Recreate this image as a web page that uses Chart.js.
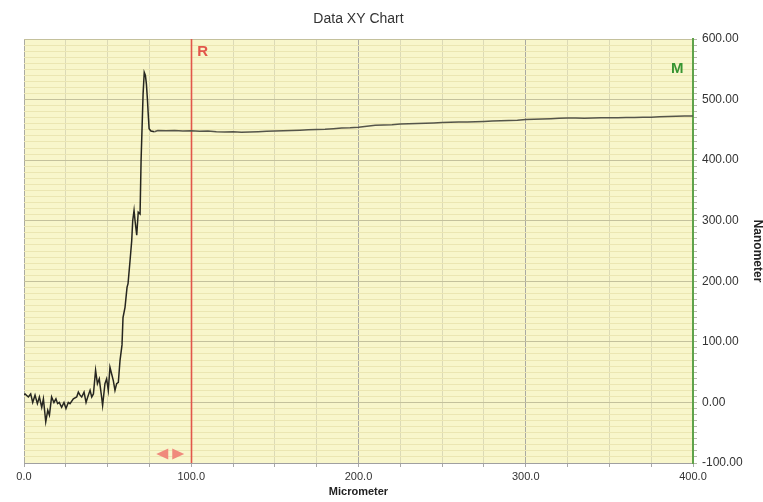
<!DOCTYPE html>
<html>
<head>
<meta charset="utf-8">
<script src="https://cdn.jsdelivr.net/npm/chart.js@4"></script>
<style>
  html, body { margin: 0; padding: 0; background: #ffffff; }
  #wrap { width: 763px; height: 502px; }
</style>
</head>
<body>
<div id="wrap"><canvas id="c" width="763" height="502"></canvas></div>
<script>
// Profile trace: horizontal position (Micrometer) and height (Nanometer)
const micrometer = [
  0, 0.6, 2.6, 4.0, 5.2, 6.6, 8.0, 9.2, 10.6, 11.6, 13.0, 14.2, 15.2, 16.5, 17.9, 19.1,
  20.1, 21.1, 22.5, 23.9, 25.1, 26.5, 27.5, 29.5, 31.5, 32.5, 33.5, 34.5, 35.9, 37.1,
  38.1, 39.5, 40.5, 41.5, 42.8, 43.9, 45.0, 46.4, 47.0, 48.4, 49.4, 50.4, 51.4, 52.4,
  53.4, 54.4, 55.4, 56.4, 57.4,
  58.6, 59.2, 60.4, 61.6, 62.2, 63.4, 64.4, 65.0, 65.8, 66.4, 67.4, 68.3, 69.4, 70.0,
  71.2, 71.9, 72.6, 73.2, 73.8, 74.3, 74.8, 75.9, 78.0,
  80, 85, 90, 95, 100, 105, 110, 115, 120, 125, 130, 135, 140, 145, 150, 155, 160, 165,
  170, 175, 180, 185, 190, 195, 200, 205, 210, 215, 220, 225, 230, 235, 240, 245, 250,
  255, 260, 265, 270, 275, 280, 285, 290, 295, 300, 305, 310, 315, 320, 325, 330, 335,
  340, 345, 350, 355, 360, 365, 370, 375, 380, 385, 390, 395, 400
];
const nanometer = [
  13, 14, 9, 14, 0, 12, -2, 9, -8, 6, -32, -13, -21, 9, 0, 6,
  -2, 0, -8, 0, -10, 0, -2, 6, 9, 17, 12, 9, 17, 0,
  9, 20, 9, 14, 53, 31, 39, 9, -5, 31, 39, 20, 58, 47,
  36, 20, 31, 33, 69,
  95, 140, 157, 190, 196, 234, 267, 300, 317, 300, 276, 314, 311, 399,
  509, 545, 540, 525, 500, 475, 452, 448, 447,
  449, 448.5, 449, 448, 448.5, 447.5, 448, 447, 446.5, 447, 446, 446.5, 447, 447.5, 448, 448.5, 449, 449.5,
  450, 450.5, 451, 452, 453, 453.5, 454.5, 456, 457.5, 458, 458.5, 459.5, 460, 460.5, 461, 461.5, 462,
  462.5, 463, 463, 463.5, 464, 464.5, 465, 465.5, 466, 467, 467.5, 468, 468.5, 469, 469.5, 469.5, 469,
  469.5, 470, 470, 470, 470.5, 470.5, 471, 471, 471.5, 472, 472.5, 473, 473
];

// Axis tick labels (major ticks) and minor tick spacing
const xTickLabels = ['0.0', '100.0', '200.0', '300.0', '400.0'];
const yTickLabels = ['-100.00', '0.00', '100.00', '200.00', '300.00', '400.00', '500.00', '600.00'];
const xRange = [0, 400];
const yRange = [-100, 600];
const xMinorStep = 25;
const yMinorStep = 10;
const referenceCursor = 100;

const points = micrometer.map((x, i) => ({ x: x, y: nanometer[i] }));

function stepTicks(min, max, step) {
  const out = [];
  for (let v = min; v <= max + 1e-9; v += step) out.push({ value: v });
  return out;
}

const FONT = '"Liberation Sans", Arial, sans-serif';

const decorations = {
  id: 'decorations',
  beforeDraw(chart) {
    const { ctx, chartArea: a } = chart;
    ctx.save();
    ctx.fillStyle = '#ffffff';
    ctx.fillRect(0, 0, chart.width, chart.height);
    ctx.fillStyle = '#f8f6cb';
    ctx.fillRect(a.left, a.top, a.right - a.left, a.bottom - a.top);
    ctx.restore();
  },
  beforeDatasetsDraw(chart) {
    const { ctx, chartArea: a, scales } = chart;
    const rx = Math.round(scales.x.getPixelForValue(referenceCursor)) + 0.5;
    ctx.save();
    ctx.strokeStyle = '#e2564b';
    ctx.lineWidth = 1.6;
    ctx.beginPath();
    ctx.moveTo(rx, a.top);
    ctx.lineTo(rx, a.bottom);
    ctx.stroke();
    ctx.restore();
  },
  afterDraw(chart) {
    const { ctx, chartArea: a, scales } = chart;
    const rx = scales.x.getPixelForValue(referenceCursor);
    ctx.save();

    // cursor letters
    ctx.font = 'bold 15px ' + FONT;
    ctx.textBaseline = 'alphabetic';
    ctx.textAlign = 'left';
    ctx.fillStyle = '#e2564b';
    ctx.fillText('R', rx + 6, a.top + 17);
    ctx.fillStyle = '#379431';
    ctx.fillText('M', a.right - 22, a.top + 34);

    // cursor drag handle
    const hy = a.bottom - 9;
    const hx = rx - 24;
    ctx.fillStyle = '#f08a7c';
    ctx.beginPath();
    ctx.moveTo(hx - 11, hy);
    ctx.lineTo(hx + 1, hy - 5.5);
    ctx.lineTo(hx + 1, hy + 5.5);
    ctx.closePath();
    ctx.fill();
    ctx.beginPath();
    ctx.moveTo(hx + 5, hy - 5.5);
    ctx.lineTo(hx + 17, hy);
    ctx.lineTo(hx + 5, hy + 5.5);
    ctx.closePath();
    ctx.fill();

    // titles
    ctx.fillStyle = '#333333';
    ctx.textAlign = 'center';
    ctx.textBaseline = 'middle';
    ctx.font = '14px ' + FONT;
    ctx.fillText('Data XY Chart', (a.left + a.right) / 2, 19);
    ctx.font = 'bold 11px ' + FONT;
    ctx.fillStyle = '#222222';
    ctx.fillText('Micrometer', (a.left + a.right) / 2, 492);
    ctx.translate(757, (a.top + a.bottom) / 2);
    ctx.rotate(Math.PI / 2);
    ctx.font = 'bold 12px ' + FONT;
    ctx.fillText('Nanometer', 0, 0);
    ctx.restore();
  }
};

new Chart(document.getElementById('c'), {
  type: 'scatter',
  data: {
    datasets: [{
      data: points,
      showLine: true,
      borderColor: '#262620',
      borderWidth: 1.5,
      pointRadius: 0,
      tension: 0,
      fill: false,
      segment: {
        // plateau reads lighter than the steep flank
        borderColor: c => (c.p0.parsed.x >= 76 ? '#55554a' : undefined)
      }
    }]
  },
  options: {
    responsive: false,
    animation: false,
    events: [],
    layout: { padding: { left: 24, top: 39, right: 0, bottom: 0 } },
    plugins: {
      legend: { display: false },
      tooltip: { enabled: false },
      title: { display: false }
    },
    scales: {
      x: {
        type: 'linear',
        position: 'bottom',
        min: xRange[0],
        max: xRange[1],
        afterBuildTicks: s => { s.ticks = stepTicks(xRange[0], xRange[1], xMinorStep); },
        afterFit: s => { s.height = 39; },
        ticks: {
          autoSkip: false,
          maxRotation: 0,
          padding: 3,
          color: '#333333',
          font: { family: FONT, size: 11 },
          callback: v => (v % 100 === 0 ? xTickLabels[v / 100] : '')
        },
        grid: {
          color: c => (c.tick && c.tick.value % 100 === 0 ? '#aaaaa2' : '#dcdab6'),
          lineWidth: 1,
          tickLength: 4,
          tickColor: '#a8a8a8'
        },
        border: { color: '#a0a0a0', width: 1 }
      },
      y: {
        type: 'linear',
        position: 'right',
        min: yRange[0],
        max: yRange[1],
        afterBuildTicks: s => { s.ticks = stepTicks(yRange[0], yRange[1], yMinorStep); },
        afterFit: s => { s.width = 70; },
        ticks: {
          autoSkip: false,
          padding: 5,
          color: '#333333',
          font: { family: FONT, size: 12 },
          callback: v => (v % 100 === 0 ? yTickLabels[(v + 100) / 100] : '')
        },
        grid: {
          color: c => (c.tick && c.tick.value % 100 === 0 ? '#c4c19c' : '#ebe6b2'),
          lineWidth: 1,
          tickLength: 4,
          tickColor: '#b4b8a8'
        },
        border: { color: '#5fa34a', width: 2 }
      }
    }
  },
  plugins: [decorations]
});
</script>
</body>
</html>
